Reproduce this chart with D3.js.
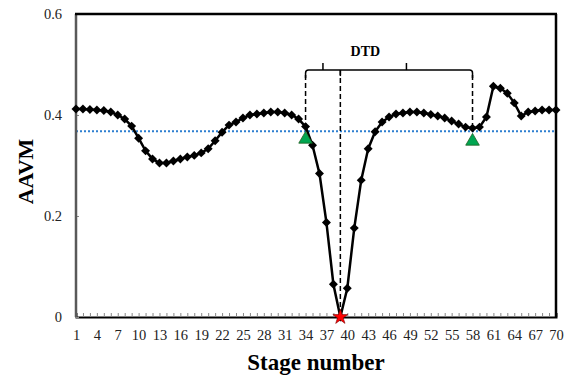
<!DOCTYPE html>
<html>
<head>
<meta charset="utf-8">
<script src="https://cdn.jsdelivr.net/npm/d3@7"></script>
<style>
  body { margin: 0; background: #fff; }
  svg { display: block; }
</style>
</head>
<body>
<script>
// stage numbers and AAVM readings
const stages = d3.range(1, 71);
const aavm = [
  0.412, 0.412, 0.411, 0.410, 0.409, 0.406, 0.400, 0.392, 0.378, 0.354,
  0.329, 0.313, 0.305, 0.305, 0.309, 0.313, 0.317, 0.320, 0.325, 0.333,
  0.349, 0.366, 0.380, 0.386, 0.394, 0.400, 0.402, 0.404, 0.406, 0.406,
  0.404, 0.400, 0.392, 0.377, 0.340, 0.284, 0.187, 0.065, 0.000, 0.057,
  0.176, 0.271, 0.333, 0.367, 0.386, 0.396, 0.402, 0.404, 0.406, 0.406,
  0.404, 0.401, 0.398, 0.394, 0.388, 0.382, 0.376, 0.374, 0.376, 0.396,
  0.457, 0.453, 0.443, 0.424, 0.398, 0.406, 0.408, 0.410, 0.410, 0.410
];
const threshold = 0.368;
const triStages = [34, 58];
const triValues = [0.352, 0.348];
const starStage = 39;
const starValue = 0;
const bracketLevel = 0.489;
const bracketTick = 0.503;
const dashEnds = [0.372, 0, 0.381]; // bottom of the left / middle / right dashed lines
const yTicks = [0, 0.2, 0.4, 0.6];

const W = 570, H = 378;
const margin = { top: 14, right: 14, bottom: 61, left: 76 };
const width = W - margin.left - margin.right;
const height = H - margin.top - margin.bottom;
const font = '"Liberation Serif", "Times New Roman", serif';

const svg = d3.select("body").append("svg").attr("width", W).attr("height", H);
const g = svg.append("g").attr("transform", `translate(${margin.left},${margin.top})`);

const x = d3.scaleLinear().domain([1, 70]).range([0, width]);
const y = d3.scaleLinear().domain([0, 0.6]).range([height, 0]);

// threshold line
g.append("line")
  .attr("x1", 0).attr("x2", width)
  .attr("y1", y(threshold)).attr("y2", y(threshold))
  .attr("stroke", "#2e7fd0").attr("stroke-width", 2)
  .attr("stroke-dasharray", "2,2");

// axes
const xAxis = d3.axisBottom(x)
  .tickValues(stages)
  .tickSize(-4)
  .tickPadding(13)
  .tickFormat((d) => ((d - 1) % 3 === 0 ? d : ""));
const gx = g.append("g").attr("transform", `translate(0,${height})`).call(xAxis);
gx.select(".domain").attr("stroke", "#000").attr("stroke-width", 2);
gx.selectAll(".tick line").attr("stroke", "#888");
gx.selectAll("text").style("font-family", font).attr("font-size", 14.5).attr("fill", "#222");

const yAxis = d3.axisLeft(y).tickValues(yTicks).tickSize(-3).tickPadding(14)
  .tickFormat((d) => (d === 0 ? "0" : d3.format(".1f")(d)));
const gy = g.append("g").call(yAxis);
gy.select(".domain").remove();
gy.selectAll(".tick line").attr("stroke", "#888");
gy.selectAll("text").style("font-family", font).attr("font-size", 14.5).attr("fill", "#222");

// frame
g.append("line").attr("x1", 0).attr("x2", 0).attr("y1", 0).attr("y2", height)
  .attr("stroke", "#595959").attr("stroke-width", 2.5);
g.append("line").attr("x1", -1).attr("x2", width + 1).attr("y1", 0).attr("y2", 0)
  .attr("stroke", "#000").attr("stroke-width", 2.5);
g.append("line").attr("x1", width).attr("x2", width).attr("y1", 0).attr("y2", height)
  .attr("stroke", "#000").attr("stroke-width", 2.5);

// main series
const line = d3.line().x((d, i) => x(stages[i])).y((d) => y(d));
g.append("path").datum(aavm)
  .attr("d", line)
  .attr("fill", "none")
  .attr("stroke", "#000")
  .attr("stroke-width", 2.5);

g.selectAll(".pt").data(aavm).enter()
  .append("path")
  .attr("class", "pt")
  .attr("d", d3.symbol(d3.symbolSquare, 40))
  .attr("transform", (d, i) => `translate(${x(stages[i])},${y(d)}) rotate(45)`)
  .attr("fill", "#000");

// DTD bracket and dashed guides
const xl = x(triStages[0]), xm = x(starStage), xr = x(triStages[1]);
const yb = y(bracketLevel);
const dash = g.append("g").attr("stroke", "#000").attr("stroke-width", 1.5).attr("fill", "none");
dash.append("line").attr("x1", xl).attr("x2", xl).attr("y1", yb + 5).attr("y2", y(dashEnds[0]))
  .attr("stroke-dasharray", "5,3");
dash.append("line").attr("x1", xm).attr("x2", xm).attr("y1", yb).attr("y2", y(dashEnds[1]))
  .attr("stroke-dasharray", "5,3");
dash.append("line").attr("x1", xr).attr("x2", xr).attr("y1", yb + 5).attr("y2", y(dashEnds[2]))
  .attr("stroke-dasharray", "5,3");

const br = g.append("g").attr("stroke", "#000").attr("stroke-width", 1.5).attr("fill", "none");
br.append("path").attr("d",
  `M${xl},${yb + 8} L${xl},${yb + 3} Q${xl},${yb} ${xl + 3},${yb} L${xr - 3},${yb} Q${xr},${yb} ${xr},${yb + 3} L${xr},${yb + 8}`);
br.append("line").attr("x1", xm).attr("x2", xm).attr("y1", yb).attr("y2", yb + 6);
const t1 = (xl + xm) / 2, t2 = (xm + xr) / 2;
br.append("line").attr("x1", t1).attr("x2", t1).attr("y1", yb).attr("y2", y(bracketTick));
br.append("line").attr("x1", t2).attr("x2", t2).attr("y1", yb).attr("y2", y(bracketTick));

g.append("text")
  .attr("x", (xm + t2) / 2 - 8)
  .attr("y", y(bracketTick) - 7)
  .attr("text-anchor", "middle")
  .style("font-family", font)
  .attr("font-weight", "bold")
  .attr("font-size", 14)
  .text("DTD");

// green triangles
g.selectAll(".tri").data(triStages).enter()
  .append("path")
  .attr("d", d3.symbol(d3.symbolTriangle, 80))
  .attr("transform", (d, i) => `translate(${x(d)},${y(triValues[i])})`)
  .attr("fill", "#00a651")
  .attr("stroke", "#1b5e20")
  .attr("stroke-width", 0.8);

// red star at minimum
g.append("path")
  .attr("d", d3.symbol(d3.symbolStar, 70))
  .attr("transform", `translate(${x(starStage)},${y(starValue)})`)
  .attr("fill", "#ff0000")
  .attr("stroke", "#7a0000")
  .attr("stroke-width", 0.6);

// axis titles
svg.append("text")
  .attr("transform", `translate(33,${margin.top + height / 2 + 6}) rotate(-90)`)
  .attr("text-anchor", "middle")
  .style("font-family", font)
  .attr("font-weight", "bold")
  .attr("font-size", 22)
  .text("AAVM");

svg.append("text")
  .attr("x", margin.left + width / 2)
  .attr("y", 370)
  .attr("text-anchor", "middle")
  .style("font-family", font)
  .attr("font-weight", "bold")
  .attr("font-size", 23)
  .text("Stage number");
</script>
</body>
</html>
